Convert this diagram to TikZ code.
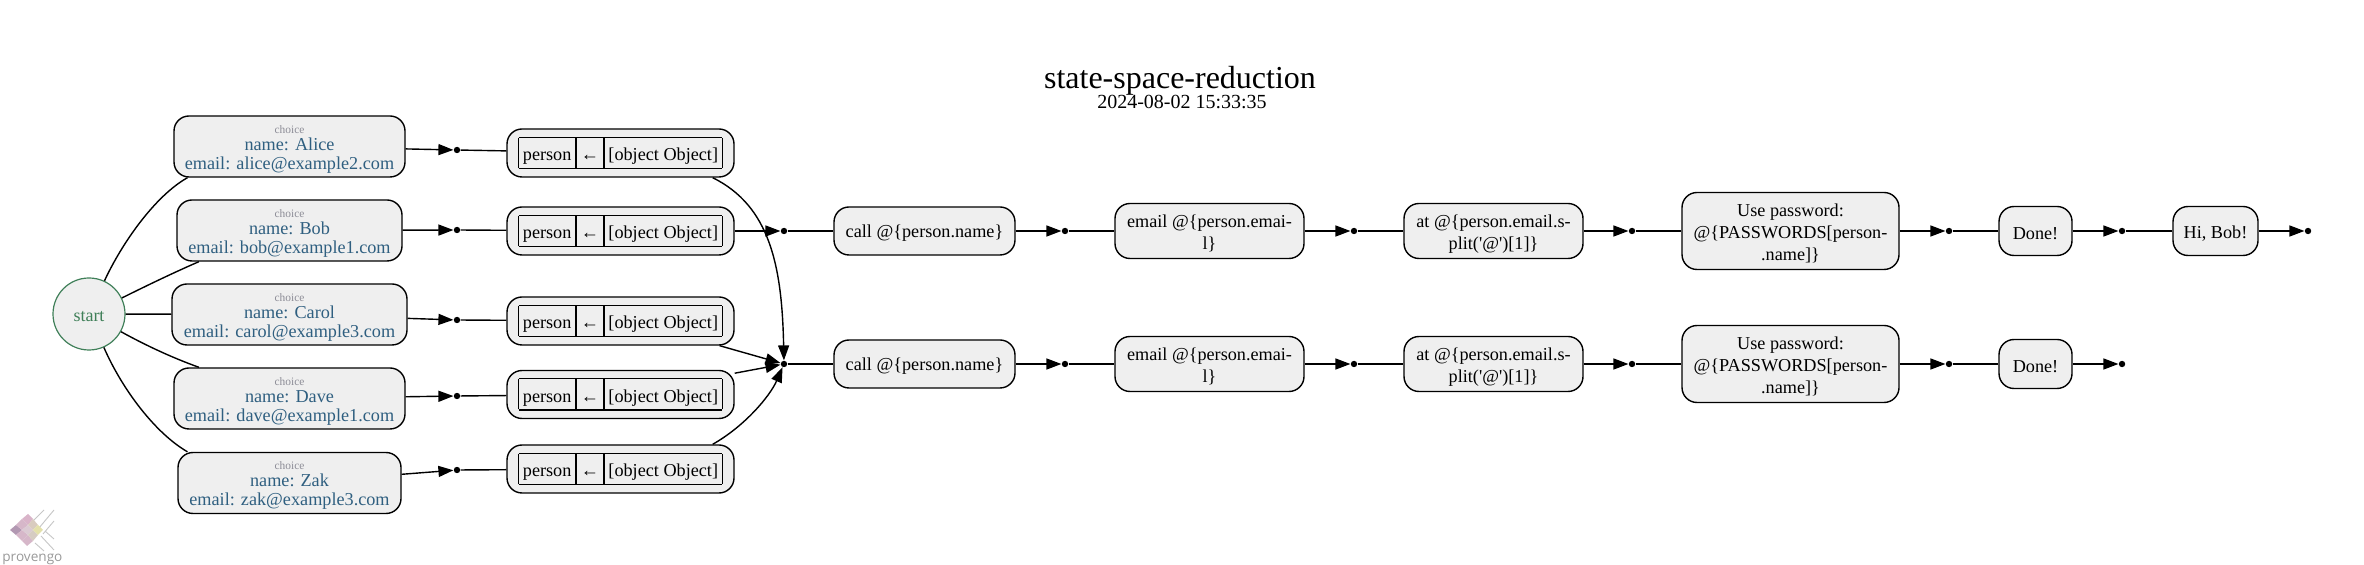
\documentclass[tikz,border=0pt]{standalone}
\usepackage{fontspec}
\setmainfont{Liberation Serif}
\newfontfamily\logofont{Open Sans}
\usetikzlibrary{arrows.meta}
\definecolor{boxfill}{HTML}{EFEFEF}
\definecolor{choiceblue}{HTML}{2F5F80}
\definecolor{choicegrey}{HTML}{8C8C96}
\definecolor{startgreen}{HTML}{3F7F58}
\setlength{\tabcolsep}{2.2pt}
\setlength{\arrayrulewidth}{0.65pt}
\setlength{\doublerulesep}{0.3pt}
\renewcommand{\arraystretch}{0}
\newcommand{\choicetext}[2]{{\fontsize{5.7}{6}\selectfont\color{choicegrey}choice}\\[-1.2pt]name: #1\\email: #2}
\newcommand{\persontable}{\begin{tabular}{|c||c||c|}\hline\rule[-3.6pt]{0pt}{15pt}person & ← & [object Object]\\\hline\end{tabular}}
\tikzset{
	statebox/.style={draw=black, fill=boxfill, rounded corners=7.5pt, line width=0.7pt,
		inner sep=0pt, align=center, font=\fontsize{9.1}{11}\selectfont},
	actionbox/.style={statebox, execute at begin node=\rule{0pt}{#1}},
	actionbox/.default=8.8pt,
	choicebox/.style={statebox, text=choiceblue, minimum height=30.5pt, font=\fontsize{9.1}{9.6}\selectfont,
		execute at begin node=\rule{0pt}{24.8pt}},
	personbox/.style={statebox, minimum width=113.5pt, minimum height=24pt},
	startnode/.style={circle, draw=startgreen, fill=boxfill, line width=0.6pt, text=startgreen,
		minimum size=36pt, inner sep=0pt, font=\fontsize{9}{11}\selectfont,
		execute at begin node=\rule{0pt}{7.7pt}},
	junction/.style={circle, fill=black, inner sep=0pt, minimum size=3.2pt},
	edge/.style={draw=black, line width=0.7pt},
	flow/.style={edge, -{Triangle[length=7.5pt,width=5.5pt]}},
}
\begin{document}
\begin{tikzpicture}[x=0.5pt, y=-0.5pt]
	\useasboundingbox (0,-1) rectangle (2364,564);

	\node[font=\fontsize{16}{18}\selectfont, anchor=base] (title) at (1180,88) {state-space-reduction};
	\node[font=\fontsize{10}{12}\selectfont, anchor=base] (date) at (1182,108) {2024-08-02 15:33:35};

	\node[startnode] (start) at (89,313) {start};

	% choices
	\node[choicebox, minimum width=115.5pt] (alice) at (289.5,145.5) {\choicetext{Alice}{alice@example2.com}};
	\node[choicebox, minimum width=112.5pt] (bob) at (289.5,229.5) {\choicetext{Bob}{bob@example1.com}};
	\node[choicebox, minimum width=117.5pt] (carol) at (289.5,313.5) {\choicetext{Carol}{carol@example3.com}};
	\node[choicebox, minimum width=115.5pt] (dave) at (289.5,397.5) {\choicetext{Dave}{dave@example1.com}};
	\node[choicebox, minimum width=111.5pt] (zak) at (289.5,482) {\choicetext{Zak}{zak@example3.com}};

	\draw[edge] (start.65) .. controls (122,242) and (155,195) .. (alice.197);
	\draw[edge] (start.26) .. controls (148,284) and (175,271) .. (bob.199);
	\draw[edge] (start) -- (carol);
	\draw[edge] (start.-29) .. controls (147,345) and (173,357) .. (dave.161);
	\draw[edge] (start.-66) .. controls (122,388) and (155,432) .. (zak.163);

	\node[junction] (ja) at (457,149) {};
	\node[junction] (jb) at (457,229) {};
	\node[junction] (jc) at (457,319) {};
	\node[junction] (jd) at (457,395) {};
	\node[junction] (jz) at (457,469) {};

	\draw[flow] (alice) -- (ja);
	\draw[flow] (bob) -- (jb);
	\draw[flow] (carol) -- (jc);
	\draw[flow] (dave) -- (jd);
	\draw[flow] (zak) -- (jz);

	% person tables
	\node[personbox] (pa) at (620.5,152) {\persontable};
	\node[personbox] (pb) at (620.5,230) {\persontable};
	\node[personbox] (pc) at (620.5,320) {\persontable};
	\node[personbox] (pd) at (620.5,393.5) {\persontable};
	\node[personbox] (pz) at (620.5,468) {\persontable};

	\draw[edge] (ja) -- (pa);
	\draw[edge] (jb) -- (pb);
	\draw[edge] (jc) -- (pc);
	\draw[edge] (jd) -- (pd);
	\draw[edge] (jz) -- (pz);

	\node[junction] (ju) at (784,230) {};
	\node[junction] (jm) at (784,363) {};

	\draw[flow] (pb) -- (ju);
	\draw[flow] (pa.345) .. controls (770,205) and (782,265) .. (jm);
	\draw[flow] (pc.346) -- (jm);
	\draw[flow] (pd) -- (jm);
	\draw[flow] (pz.15) .. controls (745,425) and (770,395) .. (jm);

	% upper row
	\node[actionbox, minimum width=90.5pt, minimum height=24pt] (calla) at (924.5,230) {call @\{person.name\}};
	\node[junction] (j1) at (1065,230) {};
	\node[actionbox=20.2pt, minimum width=94.5pt, minimum height=27.5pt] (emaila) at (1209.5,230) {email @\{person.emai-\\l\}};
	\node[junction] (j2) at (1354,230) {};
	\node[actionbox=20.2pt, minimum width=89.5pt, minimum height=27.5pt] (ata) at (1493.5,230) {at @\{person.email.s-\\plit(\textquotesingle @\textquotesingle)[1]\}};
	\node[junction] (j3) at (1632,230) {};
	\node[actionbox=30.8pt, minimum width=108.5pt, minimum height=38.5pt] (passa) at (1790.5,230) {Use password:\\@\{PASSWORDS[person-\\.name]\}};
	\node[junction] (j4) at (1949,230) {};
	\node[actionbox, minimum width=36.5pt, minimum height=24.5pt] (donea) at (2035.5,230) {Done!};
	\node[junction] (j5) at (2122,230) {};
	\node[actionbox, minimum width=42.5pt, minimum height=24.5pt] (hi) at (2215.5,230) {Hi, Bob!};
	\node[junction] (j6) at (2308,230) {};

	\draw[edge] (ju) -- (calla);
	\draw[flow] (calla) -- (j1);
	\draw[edge] (j1) -- (emaila);
	\draw[flow] (emaila) -- (j2);
	\draw[edge] (j2) -- (ata);
	\draw[flow] (ata) -- (j3);
	\draw[edge] (j3) -- (passa);
	\draw[flow] (passa) -- (j4);
	\draw[edge] (j4) -- (donea);
	\draw[flow] (donea) -- (j5);
	\draw[edge] (j5) -- (hi);
	\draw[flow] (hi) -- (j6);

	% lower row
	\node[actionbox, minimum width=90.5pt, minimum height=24pt] (callb) at (924.5,363) {call @\{person.name\}};
	\node[junction] (k1) at (1065,363) {};
	\node[actionbox=20.2pt, minimum width=94.5pt, minimum height=27.5pt] (emailb) at (1209.5,363) {email @\{person.emai-\\l\}};
	\node[junction] (k2) at (1354,363) {};
	\node[actionbox=20.2pt, minimum width=89.5pt, minimum height=27.5pt] (atb) at (1493.5,363) {at @\{person.email.s-\\plit(\textquotesingle @\textquotesingle)[1]\}};
	\node[junction] (k3) at (1632,363) {};
	\node[actionbox=30.8pt, minimum width=108.5pt, minimum height=38.5pt] (passb) at (1790.5,363) {Use password:\\@\{PASSWORDS[person-\\.name]\}};
	\node[junction] (k4) at (1949,363) {};
	\node[actionbox, minimum width=36.5pt, minimum height=24.5pt] (doneb) at (2035.5,363) {Done!};
	\node[junction] (k5) at (2122,363) {};

	\draw[edge] (jm) -- (callb);
	\draw[flow] (callb) -- (k1);
	\draw[edge] (k1) -- (emailb);
	\draw[flow] (emailb) -- (k2);
	\draw[edge] (k2) -- (atb);
	\draw[flow] (atb) -- (k3);
	\draw[edge] (k3) -- (passb);
	\draw[flow] (passb) -- (k4);
	\draw[edge] (k4) -- (doneb);
	\draw[flow] (doneb) -- (k5);

	% logo
	\draw[gray!45, line width=0.45pt] (33,520) -- (44,509) (39,527) -- (54,509) (43,533) -- (54,520)
		(35,542) -- (44,550) (41,535) -- (54,549) (45,530) -- (54,538);
	\fill[violet!35!gray!60] (10,529) -- (16,524) -- (22,529) -- (16,534) -- cycle;
	\fill[magenta!30!gray!50] (16,524) -- (22,518) -- (28,524) -- (22,529) -- cycle;
	\fill[magenta!35!gray!50] (22,518) -- (28,513) -- (33,518) -- (28,524) -- cycle;
	\fill[magenta!30!gray!50] (16,534) -- (22,529) -- (28,534) -- (22,540) -- cycle;
	\fill[magenta!20!gray!40] (22,529) -- (28,524) -- (33,529) -- (28,534) -- cycle;
	\fill[orange!25!gray!40] (28,524) -- (33,518) -- (38,524) -- (33,529) -- cycle;
	\fill[magenta!30!gray!50] (22,540) -- (28,534) -- (33,540) -- (27,545) -- cycle;
	\fill[orange!20!gray!40] (28,534) -- (33,529) -- (38,534) -- (33,540) -- cycle;
	\fill[yellow!50!gray!50] (33,529) -- (38,524) -- (43,529) -- (38,534) -- cycle;
	\node[font=\logofont\fontsize{6.8}{8}\selectfont, text=gray!80, anchor=base west, inner sep=0pt] (logo) at (2,561) {provengo};
\end{tikzpicture}
\end{document}
